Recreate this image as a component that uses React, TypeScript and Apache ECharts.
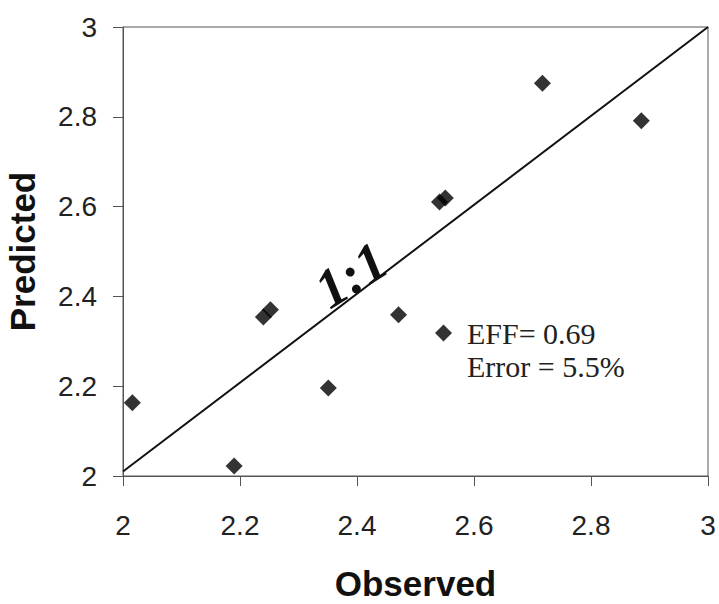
import React, { useEffect, useRef } from "react";
import * as echarts from "echarts";

const observed = [2.016, 2.19, 2.24, 2.252, 2.351, 2.471, 2.541, 2.551, 2.717, 2.886];
const predicted = [2.163, 2.022, 2.354, 2.37, 2.196, 2.359, 2.61, 2.619, 2.875, 2.791];
const oneToOneX = [2, 3];
const oneToOneY = [2.01, 3];
const legendLine1 = "EFF= 0.69";
const legendLine2 = "Error = 5.5%";
const lineLabel = "1:1";
const xAxisTitle = "Observed";
const yAxisTitle = "Predicted";

const SANS = '"Liberation Sans", Arial, sans-serif';
const SERIF = '"Liberation Serif", "Times New Roman", serif';

export default function App() {
  const ref = useRef<HTMLDivElement>(null);
  useEffect(() => {
    if (!ref.current) return;
    const chart = echarts.init(ref.current, undefined, { renderer: "svg" });
    const axisCommon = {
      type: "value" as const,
      min: 2,
      max: 3,
      interval: 0.2,
      splitLine: { show: false },
      axisLine: { show: true, lineStyle: { color: "#555", width: 1 } },
      axisTick: { show: true, inside: false, length: 10, lineStyle: { color: "#555", width: 1 } },
      axisLabel: { color: "#222", fontSize: 28, fontFamily: SANS },
      nameLocation: "middle" as const,
      nameTextStyle: { color: "#111", fontSize: 35, fontWeight: "bold" as const, fontFamily: SANS },
    };
    chart.setOption({
      animation: false,
      backgroundColor: "#fff",
      grid: {
        left: 123,
        right: 11,
        top: 27,
        bottom: 128,
        containLabel: false,
        outerBoundsMode: "none",
        show: true,
        borderColor: "#555",
        borderWidth: 1,
        backgroundColor: "transparent",
      },
      xAxis: {
        ...axisCommon,
        name: xAxisTitle,
        nameGap: 90,
        axisLabel: { ...axisCommon.axisLabel, margin: 35 },
      },
      yAxis: {
        ...axisCommon,
        name: yAxisTitle,
        nameGap: 83,
        axisLabel: { ...axisCommon.axisLabel, margin: 26 },
      },
      legend: {
        show: true,
        left: 430,
        top: 313,
        orient: "vertical",
        icon: "diamond",
        itemWidth: 17,
        itemHeight: 17,
        data: [legendLine1],
        textStyle: {
          fontFamily: SERIF,
          fontSize: 30,
          color: "#222",
          padding: [0, 0, 0, 10],
        },
      },
      series: [
        {
          type: "line",
          name: "1:1 line",
          data: oneToOneX.map((x, i) => [x, oneToOneY[i]]),
          symbol: "none",
          lineStyle: { color: "#111", width: 2 },
          silent: true,
          z: 1,
        },
        {
          type: "scatter",
          name: legendLine1,
          data: observed.map((x, i) => [x, predicted[i]]),
          symbol: "diamond",
          symbolSize: 17,
          itemStyle: { color: "#000" },
          z: 3,
        },
      ],
      graphic: [
        {
          type: "text",
          left: 467,
          top: 351,
          style: {
            text: legendLine2,
            fontFamily: SERIF,
            fontSize: 30,
            fill: "#222",
          },
        },
        {
          type: "text",
          x: 351,
          y: 275,
          rotation: (32 * Math.PI) / 180,
          style: {
            text: lineLabel,
            fontFamily: SERIF,
            fontSize: 55,
            fontWeight: "bold",
            fontStyle: "italic",
            fill: "#111",
            align: "center",
            verticalAlign: "middle",
          },
        },
      ],
    });
    return () => chart.dispose();
  }, []);
  return (
    <div
      ref={ref}
      style={{ position: "absolute", left: 0, top: 0, width: 719, height: 604 }}
    />
  );
}
